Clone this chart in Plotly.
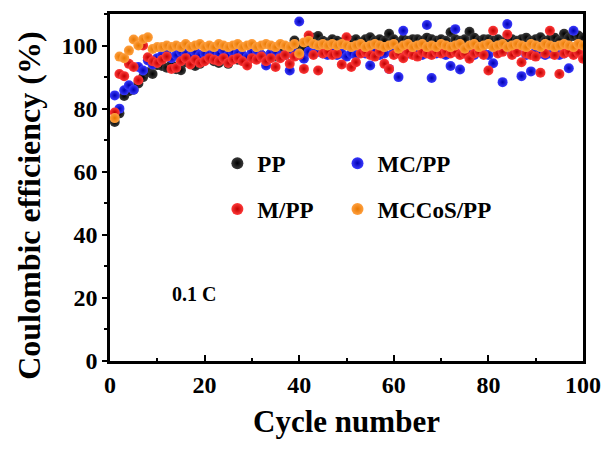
import plotly.graph_objects as go

cycles = list(range(1, 101))

pp = [75.8, 78.5, 84, 85.5, 86, 88, 90, 91.5, 91, 93.8,
      93.5, 93, 94, 92.5, 92.2, 94.7, 95, 93.5, 94.2, 95.5,
      96, 95, 94.5, 95.5, 94.2, 96, 95.5, 96.5, 95, 96.5,
      97, 97, 96, 97.5, 96.5, 97.5, 97, 97.9, 101.6, 100,
      99.5, 101, 102.5, 103, 101.5, 101, 102, 101.5, 101, 102,
      101.5, 102, 101, 102, 102.6, 101.5, 102, 101.5, 103.7, 102,
      101, 102, 101.5, 102, 102, 101.5, 102.5, 102, 101.5, 102,
      101.5, 104.2, 102, 101.5, 102, 104.4, 102.5, 101.5, 102, 102,
      101.5, 102, 101, 102.5, 102, 101.5, 102, 102.5, 101.5, 102,
      102.6, 101.5, 102, 102.5, 101.5, 103.7, 102.5, 103, 103.2, 102.5]

mc_pp = [84.2, 80, 85.8, 87.4, 86, 93.2, 92.1, 95.3, 94, 96,
         96.8, 97.4, 96, 97, 98, 97.5, 96.5, 98, 97, 97.5,
         97, 98, 97.5, 98.5, 97, 98, 97.5, 97, 96.3, 98,
         98.5, 97, 93.7, 97.5, 98, 96.5, 97, 92.1, 97.5, 107.6,
         95.8, 98, 97.5, 98, 97.5, 97, 98, 97, 97.5, 96.5,
         97.5, 97, 98, 97.5, 93.7, 98, 97, 97.5, 92.6, 98,
         90, 104.7, 97.5, 98, 97.8, 97, 106.5, 89.7, 97.5, 98,
         97, 93.5, 105.2, 92.4, 97.5, 98, 97, 98, 97.5, 97,
         94.4, 98, 88.4, 106.8, 97.5, 98, 90.3, 97, 91.8, 98,
         97.5, 97, 97.5, 98, 97, 97.5, 92.8, 104.7, 98, 97]

m_pp = [78.8, 91, 90.3, 94.2, 93.2, 89, 100, 96.3, 95, 94.5,
        95.5, 96.5, 92.6, 93, 95, 96, 94, 95.5, 94.5, 95,
        96, 95.5, 95, 96, 94.5, 95.5, 96, 95, 93.7, 96,
        95.5, 96.5, 95, 96, 93.2, 96, 97, 94.2, 96.5, 97,
        92.6, 103.2, 97, 92.1, 97.5, 98, 97, 97.5, 94, 102.6,
        93.2, 94.7, 97.5, 98, 97, 96.5, 98, 94.2, 92.6, 97,
        97.5, 96, 98, 97, 96.5, 98, 97.5, 97, 98, 97.5,
        98, 97.5, 98, 97, 97.5, 95.8, 97.5, 98, 97, 92.1,
        104.7, 97.5, 98, 103.5, 97, 98, 94.7, 97.5, 97, 96.5,
        91.4, 97.5, 104.7, 97, 91, 97.5, 98, 97, 97.8, 95.8]

mccos_pp = [77, 96.5, 96, 98.4, 101.9, 100, 102, 102.6, 98.9, 99.5,
            99.5, 100, 99.5, 100, 99.5, 100.5, 99.5, 100, 100.5, 99.5,
            100, 99.5, 100.5, 100, 99.5, 100, 100.5, 99.5, 100, 100.5,
            99.5, 100, 100.5, 100, 99.5, 100.5, 100, 99.5, 100.5, 97.5,
            101, 101.5, 100.5, 100, 100.5, 100, 100.5, 100, 100.5, 100,
            99.5, 100, 100.5, 99.5, 100, 100.5, 100, 99.5, 100, 100.5,
            99, 100, 100.5, 99.5, 100, 100.5, 99.5, 100, 99.5, 100.5,
            100, 99.5, 100, 100.5, 99, 100, 100.5, 99.5, 100, 100.5,
            99.5, 100, 100.5, 99.5, 100, 100.5, 100, 99.5, 100.5, 100,
            99.5, 100.5, 100, 99.5, 100, 100.5, 100, 99.5, 100.5, 100]

series = [
    ("PP", pp, "#3a3a3a", "#000000", "legend", "g1"),
    ("MC/PP", mc_pp, "#3a3aff", "#0000b0", "legend2", "g2"),
    ("M/PP", m_pp, "#ff3a3a", "#c00000", "legend", "g3"),
    ("MCCoS/PP", mccos_pp, "#ffa040", "#e87800", "legend2", "g4"),
]

fig = go.Figure()
for name, vals, c, g, lg, grp in series:
    fig.add_trace(go.Scatter(
        x=cycles, y=vals, mode="markers", name=name, legend=lg, legendgroup=grp,
        marker=dict(size=10, color=c, gradient=dict(type="radial", color=g),
                    line=dict(width=0)),
    ))

font_family = "Liberation Serif, Times New Roman, serif"

fig.add_annotation(x=17.7, y=21.3, text="0.1 C", showarrow=False,
                   font=dict(family=font_family, size=20, color="black", weight="bold"))

# y-axis title placed as rotated text (slightly below the plot centre, as in the reference)
fig.add_annotation(xref="paper", yref="paper", x=-0.170, y=0.446,
                   xanchor="center", yanchor="middle",
                   text="Coulombic efficiency (%)", textangle=-90, showarrow=False,
                   font=dict(family=font_family, size=32, color="black", weight="bold"))

legend_common = dict(orientation="v", xanchor="left", yanchor="top",
                     bgcolor="rgba(0,0,0,0)", itemsizing="constant",
                     tracegroupgap=13,
                     font=dict(family=font_family, size=23, color="black", weight="bold"),
                     traceorder="grouped")

fig.update_layout(
    width=612, height=452,
    margin=dict(l=110, r=26, t=11, b=91),
    plot_bgcolor="white", paper_bgcolor="white",
    font=dict(family=font_family, color="black"),
    showlegend=True,
    legend=dict(x=0.227, y=0.632, **legend_common),
    legend2=dict(x=0.481, y=0.632, **legend_common),
    xaxis=dict(
        range=[0, 100], tickvals=[0, 20, 40, 60, 80, 100],
        ticks="inside", ticklen=6, tickwidth=2, tickcolor="black",
        minor=dict(tickvals=[10, 30, 50, 70, 90], ticks="inside", ticklen=3, tickwidth=2, tickcolor="black"),
        showline=True, linewidth=2.5, linecolor="black", mirror=True,
        showgrid=False, zeroline=False,
        tickfont=dict(family=font_family, size=24, color="black", weight="bold"),
        title=dict(text="Cycle number", standoff=14,
                   font=dict(family=font_family, size=31, color="black", weight="bold")),
    ),
    yaxis=dict(
        range=[0, 110], tickvals=[0, 20, 40, 60, 80, 100],
        ticks="outside", ticklen=5, tickwidth=2, tickcolor="black",
        minor=dict(tickvals=[10, 30, 50, 70, 90, 110], ticks="outside", ticklen=3, tickwidth=2, tickcolor="black"),
        showline=True, linewidth=2.5, linecolor="black", mirror=True,
        showgrid=False, zeroline=False,
        tickfont=dict(family=font_family, size=24, color="black", weight="bold"),
    ),
)

fig.write_html("out.html")
